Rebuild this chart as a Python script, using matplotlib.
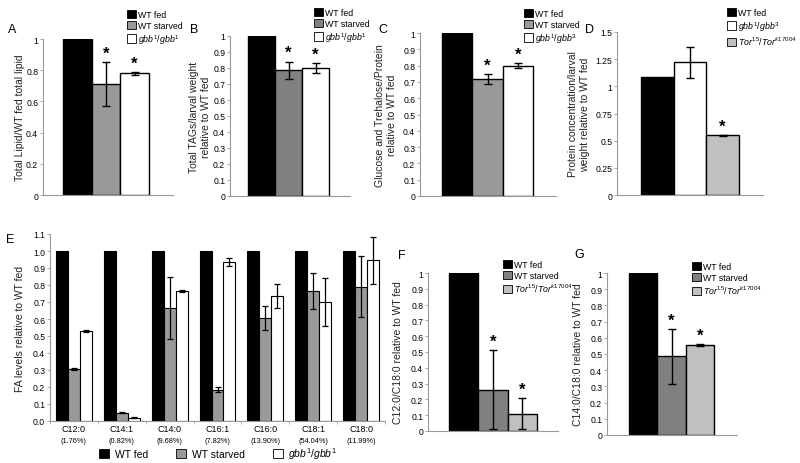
import matplotlib
matplotlib.use("Agg")
import matplotlib.pyplot as plt
from matplotlib.patches import Patch

plt.rcParams['font.family'] = ['Liberation Sans', 'DejaVu Sans']
plt.rcParams['mathtext.fontset'] = 'custom'
plt.rcParams['mathtext.rm'] = 'Liberation Sans'
plt.rcParams['mathtext.it'] = 'Liberation Sans:italic'

# data
a_vals = [1.0, 0.71, 0.78]
a_err = [0, 0.14, 0.01]
b_vals = [1.0, 0.785, 0.80]
b_err = [0, 0.055, 0.03]
c_vals = [1.0, 0.72, 0.80]
c_err = [0, 0.03, 0.015]
d_vals = [1.09, 1.22, 0.55]
d_err = [0, 0.14, 0.005]
f_vals = [1.0, 0.26, 0.11]
f_err = [0, 0.25, 0.10]
g_vals = [1.0, 0.485, 0.555]
g_err = [0, 0.17, 0.006]

e_acids = ['C12:0', 'C14:1', 'C14:0', 'C16:1', 'C16:0', 'C18:1', 'C18:0']
e_pct = ['(1.76%)', '(0.82%)', '(9.68%)', '(7.82%)', '(13.90%)', '(54.04%)', '(11.99%)']
e_fed = [1, 1, 1, 1, 1, 1, 1]
e_starved = [0.305, 0.05, 0.665, 0.185, 0.605, 0.765, 0.79]
e_starved_err = [0.005, 0.003, 0.18, 0.015, 0.07, 0.105, 0.18]
e_gbb = [0.53, 0.02, 0.765, 0.935, 0.735, 0.70, 0.945]
e_gbb_err = [0.005, 0.005, 0.005, 0.025, 0.07, 0.14, 0.14]

GBB11 = r'$\mathit{gbb}^{\mathit{1}}\mathit{/gbb}^{\mathit{1}}$'
GBB13 = r'$\mathit{gbb}^{\mathit{1}}\mathit{/gbb}^{\mathit{3}}$'
TOR = r'$\mathit{Tor}^{\mathit{15}}\mathit{/Tor}^{\mathit{k17004}}$'

W, H = 800, 464
fig = plt.figure(figsize=(8, 4.64), dpi=100)
fig.patch.set_facecolor('white')

SPINE = '#999999'


def make_ax(x0, x1, ytop, ybot):
    ax = fig.add_axes([x0 / W, 1 - ybot / H, (x1 - x0) / W, (ybot - ytop) / H])
    for s in ['top', 'right']:
        ax.spines[s].set_visible(False)
    for s in ['left', 'bottom']:
        ax.spines[s].set_color(SPINE)
        ax.spines[s].set_linewidth(0.8)
    ax.tick_params(axis='y', length=2.5, width=0.6, color=SPINE, labelsize=6.2, pad=1.0)
    ax.tick_params(axis='x', length=0)
    return ax


def ylab(ax, text, px, x0, x1):
    # px = right edge of the label block, in figure pixels
    ax.set_ylabel(text, fontsize=7.5, color='#222222', linespacing=1.2)
    ax.yaxis.set_label_coords((px - x0) / (x1 - x0), 0.5)


def bar_panel(box, bars_px, vals, errs, colors, ymax, ticks, ticklabels, stars):
    x0, x1, ytop, ybot = box
    ax = make_ax(x0, x1, ytop, ybot)
    b0, b1 = bars_px
    w = (b1 - b0) / 3
    ax.bar(range(3), vals, width=1.0, color=colors, edgecolor='black', linewidth=1.0)
    for i in range(3):
        if errs[i] > 0:
            ax.errorbar(i, vals[i], yerr=errs[i], fmt='none', ecolor='black',
                        elinewidth=1.0, capsize=3, capthick=1.0)
        if stars[i]:
            ax.annotate('*', (i, vals[i] + errs[i]), xytext=(0, 1), textcoords='offset points',
                        ha='center', va='bottom', fontsize=12, fontweight='bold')
    ax.set_xlim(-0.5 - (b0 - x0) / w, 2.5 + (x1 - b1) / w)
    ax.set_ylim(0, ymax)
    ax.set_yticks(ticks)
    ax.set_yticklabels(ticklabels)
    ax.set_xticks([])
    return ax


def legend(ax, labels, colors, xpx, ypx):
    handles = [Patch(facecolor=c, edgecolor='black', linewidth=0.6) for c in colors]
    ax.legend(handles, labels, loc='upper left', bbox_to_anchor=(xpx / W, 1 - ypx / H),
              bbox_transform=fig.transFigure, frameon=False, fontsize=6.3,
              handlelength=1.0, handleheight=1.1, handletextpad=0.3,
              labelspacing=0.2, borderpad=0, borderaxespad=0)


t01 = [i / 10 for i in range(11)]
t01_lab = ['0'] + ['%.1f' % t for t in t01[1:-1]] + ['1']

# A
box = (43, 173, 40, 196)
ax = bar_panel(box, (63, 149), a_vals, a_err, ['black', '#999999', 'white'], 1.0,
               [0, 0.2, 0.4, 0.6, 0.8, 1.0], ['0', '0.2', '0.4', '0.6', '0.8', '1'],
               [False, True, True])
ylab(ax, 'Total Lipid/WT fed total lipid', 25, 43, 173)
legend(ax, ['WT fed', 'WT starved', GBB11], ['black', '#999999', 'white'], 127, 11)
fig.text(8 / W, 1 - 30 / H, 'A', fontsize=9, va='center')

# B
box = (230, 350, 37, 197)
ax = bar_panel(box, (248, 329), b_vals, b_err, ['black', '#808080', 'white'], 1.0,
               t01, t01_lab, [False, True, True])
ylab(ax, 'Total TAGs/larval weight\nrelative to WT fed', 211, 230, 350)
legend(ax, ['WT fed', 'WT starved', GBB11], ['black', '#808080', 'white'], 314, 9)
fig.text(190 / W, 1 - 30 / H, 'B', fontsize=9, va='center')

# C
box = (420, 556, 34, 197)
ax = bar_panel(box, (442, 533), c_vals, c_err, ['black', '#999999', 'white'], 1.0,
               t01, t01_lab, [False, True, True])
ylab(ax, 'Glucose and Trehalose/Protein\nrelative to WT fed', 397, 420, 556)
legend(ax, ['WT fed', 'WT starved', GBB13], ['black', '#999999', 'white'], 524, 10)
fig.text(378 / W, 1 - 30 / H, 'C', fontsize=9, va='center')

# D
box = (617, 763, 33, 196)
ax = bar_panel(box, (641, 739), d_vals, d_err, ['black', 'white', '#c0c0c0'], 1.5,
               [0, 0.25, 0.5, 0.75, 1.0, 1.25, 1.5],
               ['0', '0.25', '0.5', '0.75', '1', '1.25', '1.5'], [False, False, True])
ylab(ax, 'Protein concentration/larval\nweight relative to WT fed', 590, 617, 763)
legend(ax, ['WT fed', GBB13, TOR], ['black', 'white', '#c0c0c0'], 727, 9)
fig.text(585 / W, 1 - 30 / H, 'D', fontsize=9, va='center')

# E
x0, x1 = 50, 385
ax = make_ax(x0, x1, 235, 422)
n = len(e_acids)
bw = 0.25
pos = list(range(n))
ax.bar([p - bw for p in pos], e_fed, width=bw, color='black', edgecolor='black', linewidth=0.8)
ax.bar(pos, e_starved, width=bw, color='#999999', edgecolor='black', linewidth=0.8)
ax.bar([p + bw for p in pos], e_gbb, width=bw, color='white', edgecolor='black', linewidth=0.8)
ax.errorbar(pos, e_starved, yerr=e_starved_err, fmt='none', ecolor='black',
            elinewidth=0.9, capsize=2.5, capthick=0.9)
ax.errorbar([p + bw for p in pos], e_gbb, yerr=e_gbb_err, fmt='none', ecolor='black',
            elinewidth=0.9, capsize=2.5, capthick=0.9)
ax.set_xlim(-0.5, n - 0.5)
ax.set_ylim(0, 1.1)
ax.set_yticks([i / 10 for i in range(12)])
ax.set_yticklabels(['%.1f' % (i / 10) for i in range(12)])
ax.set_xticks([p + 0.5 for p in range(-1, n)], minor=True)
ax.tick_params(axis='x', which='minor', length=2.5, width=0.6, color=SPINE)
ax.set_xticks(pos)
ax.set_xticklabels(e_acids, fontsize=6.5)
ax.tick_params(axis='x', which='major', length=0, pad=2)
for p, t in zip(pos, e_pct):
    ax.text(p, -(442 - 422) / 187, t, transform=ax.get_xaxis_transform(), ha='center',
            va='center', fontsize=5.3)
ylab(ax, 'FA levels relative to WT fed', 25, x0, x1)
handles = [Patch(facecolor=c, edgecolor='black', linewidth=0.6) for c in ['black', '#999999', 'white']]
ax.legend(handles, ['WT fed', 'WT starved', GBB11], loc='center left', ncol=3,
          bbox_to_anchor=(99 / W, 1 - 454 / H), bbox_transform=fig.transFigure,
          frameon=False, fontsize=7.5, handlelength=1.0, handleheight=1.0,
          handletextpad=0.5, columnspacing=2.7, borderpad=0, borderaxespad=0)
fig.text(6 / W, 1 - 240 / H, 'E', fontsize=9, va='center')

# F
box = (428, 558, 274, 432)
ax = bar_panel(box, (449, 537), f_vals, f_err, ['black', '#808080', '#c0c0c0'], 1.0,
               t01, t01_lab, [False, True, True])
ylab(ax, 'C12:0/C18:0 relative to WT fed', 403, 428, 558)
legend(ax, ['WT fed', 'WT starved', TOR], ['black', '#808080', '#c0c0c0'], 503, 261)
fig.text(398 / W, 1 - 256 / H, 'F', fontsize=9, va='center')

# G
box = (607, 737, 274, 436)
ax = bar_panel(box, (629, 714), g_vals, g_err, ['black', '#808080', '#c0c0c0'], 1.0,
               t01, t01_lab, [False, True, True])
ylab(ax, 'C14:0/C18:0 relative to WT fed', 583, 607, 737)
legend(ax, ['WT fed', 'WT starved', TOR], ['black', '#808080', '#c0c0c0'], 692, 263)
fig.text(574 / W, 1 - 255 / H, 'G', fontsize=9, va='center')

fig.savefig('out.png', dpi=100, facecolor='white')
